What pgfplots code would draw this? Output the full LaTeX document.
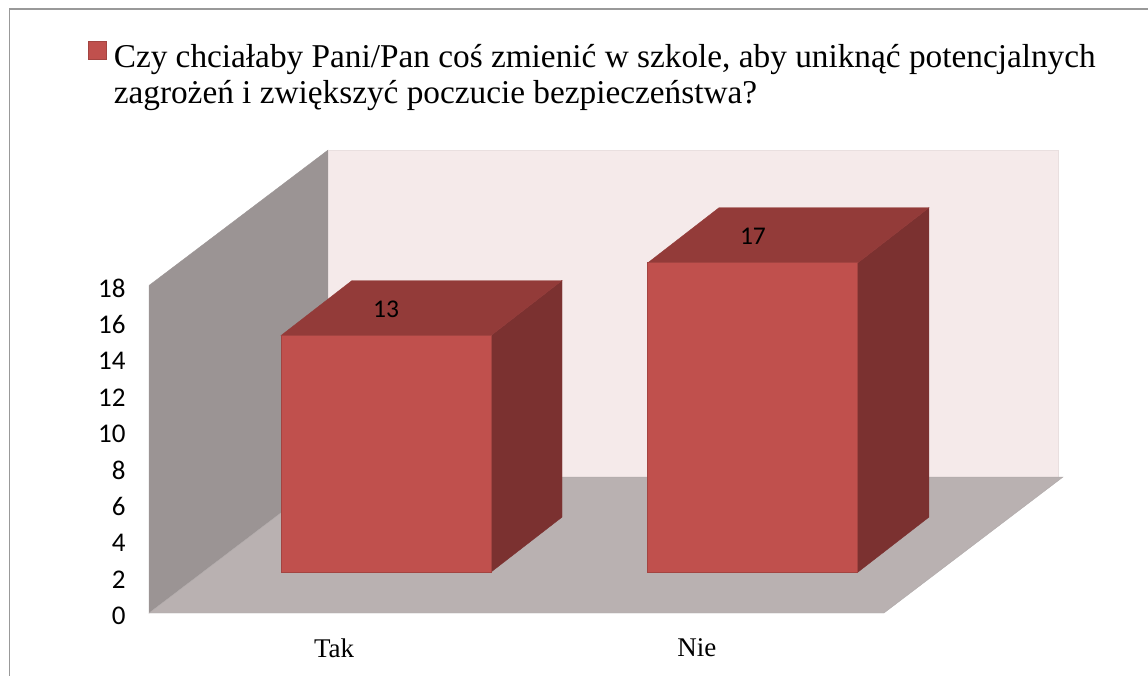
\documentclass[border=0pt]{standalone}
\usepackage{fontspec}
\setmainfont{Liberation Serif}
\newfontfamily\carlito{Carlito}
\usepackage{pgfplots}
\pgfplotsset{compat=1.18}
\usepackage{pgfplotstable}

\definecolor{barfront}{HTML}{C0504D}
\definecolor{bartop}{HTML}{933B39}
\definecolor{barside}{HTML}{7B3130}
\definecolor{sidewall}{HTML}{9B9494}
\definecolor{backwall}{HTML}{F5EAEA}
\definecolor{floorc}{HTML}{B9B1B1}

\pgfplotstableread{
x   value
386 13
753 17
}\answers

\begin{document}
\begin{tikzpicture}
\begin{axis}[
  scale only axis,
  width=1148pt,
  height=676pt,
  xmin=0, xmax=1148,
  ymin=-3.46, ymax=33.68,
  axis line style={draw=none},
  major tick length=0pt,
  ytick={0,2,...,18},
  xtick={334,697},
  xticklabels={Tak,Nie},
  /pgf/number format/assume math mode=true,
  yticklabel style={font=\carlito\fontsize{27}{32}\selectfont, anchor=east, xshift=129pt, yshift=-3pt},
  xticklabel style={font=\fontsize{27}{32}\selectfont, anchor=center, yshift=28pt},
  legend image code/.code={\path[draw=none,fill=none] (0pt,0pt) rectangle (18pt,1pt); \draw[#1,overlay] (0pt,-37pt) rectangle (18pt,-19pt);},
  legend style={at={(axis description cs:0.0745,0.971)}, anchor=north west, draw=none, fill=none,
    font=\fontsize{33.3}{36}\selectfont},
]
% outer frame
\addplot[forget plot, draw=gray!80, line width=1.5pt] coordinates {(9.5,-3.46) (9.5,33.19) (1148,33.19)};
% walls and floor
\addplot[forget plot, fill=sidewall, draw=sidewall] coordinates {(149,0) (149,18) (328,25.44) (328,7.47)} -- cycle;
\addplot[forget plot, fill=backwall, draw=backwall!90!gray] coordinates {(328,7.47) (328,25.44) (1058,25.44) (1058,7.47)} -- cycle;
\addplot[forget plot, fill=floorc, draw=floorc!85!gray] coordinates {(149,0) (884,0) (1063,7.47) (328,7.47)} -- cycle;
% bar sides and tops
\addplot[forget plot, fill=barside, draw=barside] coordinates {(491,2.25) (562,5.27) (562,18.27) (491,15.25)} -- cycle;
\addplot[forget plot, fill=bartop, draw=bartop] coordinates {(281,15.25) (352,18.27) (562,18.27) (491,15.25)} -- cycle;
\addplot[forget plot, fill=barside, draw=barside] coordinates {(858,2.25) (929,5.27) (929,22.27) (858,19.25)} -- cycle;
\addplot[forget plot, fill=bartop, draw=bartop] coordinates {(648,19.25) (719,22.27) (929,22.27) (858,19.25)} -- cycle;
% front faces, lifted to the floor line
\addplot[ybar, bar width=210pt, bar shift=0pt, fill=barfront, draw=barfront!85!black, line width=1pt, yshift=41pt,
  nodes near coords, nodes near coords style={font=\carlito\fontsize{25.5}{30}\selectfont, anchor=center, yshift=26pt, text=black}]
  table[x=x, y=value] {\answers};
\addlegendentry{\begin{tabular}{@{\hspace{5pt}}l@{}}Czy chciałaby Pani/Pan coś zmienić w szkole, aby uniknąć potencjalnych\\ zagrożeń i zwiększyć poczucie bezpieczeństwa?\end{tabular}}
\end{axis}
\end{tikzpicture}
\end{document}
